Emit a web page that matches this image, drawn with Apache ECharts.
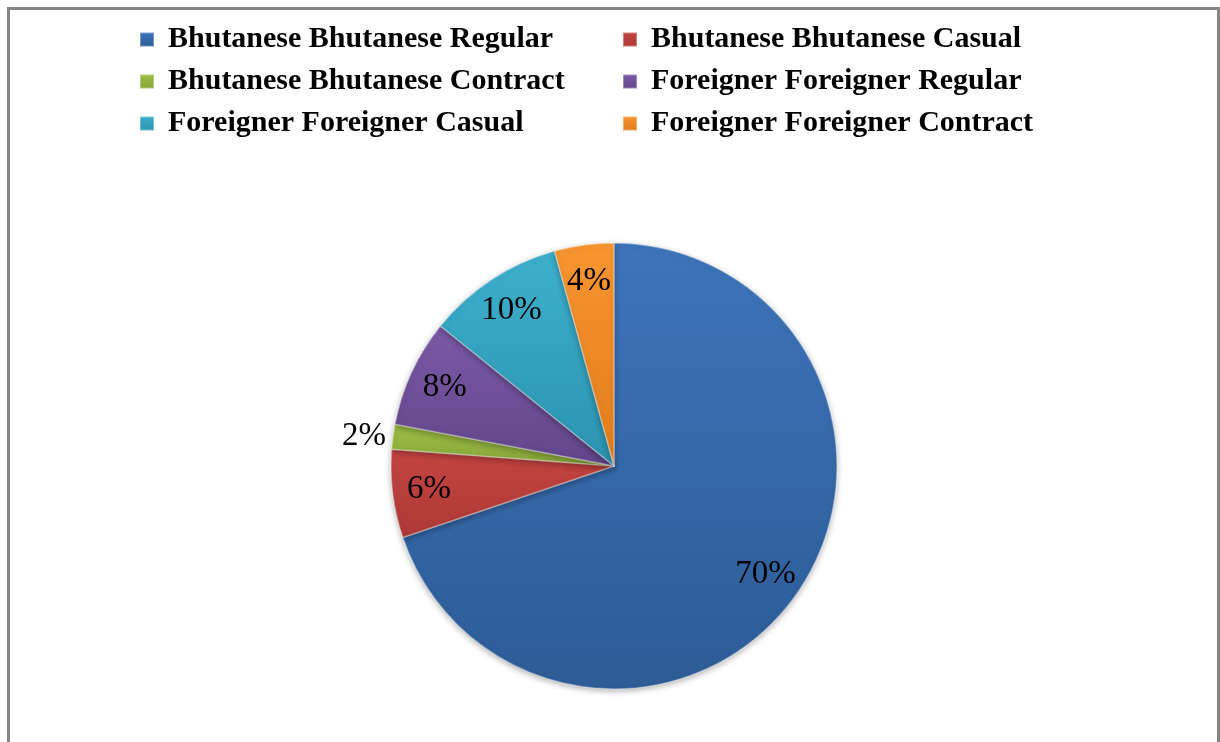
<!DOCTYPE html>
<html>
<head>
<meta charset="utf-8">
<script src="https://cdn.jsdelivr.net/npm/echarts@6/dist/echarts.min.js"></script>
<style>
  html, body { margin: 0; padding: 0; background: #fff; }
  #chart { position: absolute; left: 0; top: 0; width: 1220px; height: 742px; }
  #frame {
    position: absolute; left: 7px; top: 7px; width: 1207px; height: 760px;
    border-left: 3px solid #858585; border-top: 3px solid #858585; border-right: 3px solid #858585;
    pointer-events: none;
  }
</style>
</head>
<body>
<div id="chart"></div>
<div id="frame"></div>
<script>
const names = [
  'Bhutanese Bhutanese Regular',
  'Bhutanese Bhutanese Casual',
  'Bhutanese Bhutanese Contract',
  'Foreigner Foreigner Regular',
  'Foreigner Foreigner Casual',
  'Foreigner Foreigner Contract',
]
const values = [69.8, 6.4, 1.8, 7.8, 9.9, 4.3]
// top / bottom shades of each slice
const colorsTop = ['#3d74ba', '#c44441', '#9cbf45', '#7a59a6', '#3cb0cd', '#f7952f']
const colorsBottom = ['#2d5c96', '#ad3936', '#86a538', '#62468a', '#2b93b0', '#e27c1b']
const leftLegend = [names[0], names[2], names[4]]
const rightLegend = [names[1], names[3], names[5]]

const font = '"Liberation Serif", "DejaVu Serif", serif'

const legendBase = {
  orient: 'vertical',
  top: 19,
  itemWidth: 14,
  itemHeight: 14,
  itemGap: 11,
  icon: 'rect',
  textStyle: { fontFamily: font, fontSize: 30, fontWeight: 'bold', color: '#000', lineHeight: 31, padding: [0, 0, 0, 9] },
}

const pieData = names.map((n, i) => ({
  name: n,
  value: values[i],
  itemStyle: {
    color: new echarts.graphic.LinearGradient(0, 0, 0, 1, [
      { offset: 0, color: colorsTop[i] },
      { offset: 1, color: colorsBottom[i] },
    ]),
  },
}))

const labelData = names.map((n, i) => ({
  name: n,
  value: values[i],
  label: i === 2 ? { position: 'outside' } : {},
}))

echarts.init(document.getElementById('chart')).setOption({
  color: colorsTop,
  animation: false,
  legend: [
    { ...legendBase, left: 134, data: leftLegend },
    { ...legendBase, left: 617, data: rightLegend },
  ],
  series: [
    {
      type: 'pie',
      center: [614, 466],
      radius: 223,
      startAngle: 90,
      clockwise: true,
      data: pieData,
      itemStyle: {
        borderColor: 'rgba(255,255,255,0.35)',
        borderWidth: 1.5,
        shadowColor: 'rgba(0,0,0,0.3)',
        shadowBlur: 6,
        shadowOffsetY: 2,
      },
      label: { show: false },
      labelLine: { show: false },
    },
    {
      type: 'pie',
      center: [614, 466],
      radius: [144, 223],
      startAngle: 90,
      clockwise: true,
      silent: true,
      percentPrecision: 0,
      avoidLabelOverlap: false,
      data: labelData,
      itemStyle: { color: 'rgba(0,0,0,0)' },
      label: {
        show: true,
        position: 'inside',
        formatter: '{d}%',
        fontFamily: font,
        fontSize: 33,
        color: '#000',
      },
      labelLine: { show: false, length: 2, length2: 0 },
    },
  ],
})
</script>
</body>
</html>
